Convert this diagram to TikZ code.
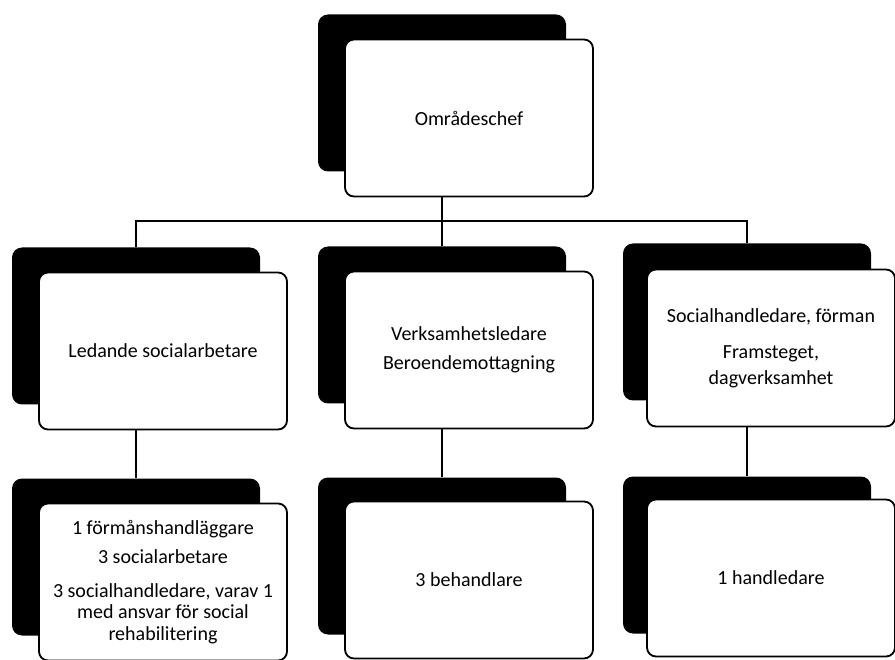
\documentclass[tikz,border=0pt]{standalone}
\usepackage{fontspec}
\setmainfont{Carlito}
\usetikzlibrary{backgrounds}
\begin{document}
\begin{tikzpicture}[x=1pt,y=-1pt,
  shadowbox/.style={fill=black, draw=none, rounded corners=10pt, minimum width=248pt, minimum height=157pt, inner sep=0pt},
  orgbox/.style={draw=black, line width=1.8pt, fill=white, rounded corners=9pt, minimum width=248pt, minimum height=157pt, inner sep=2pt, align=center, font=\fontsize{20}{21.5}\selectfont},
  link/.style={draw=black, line width=1.8pt}]
\useasboundingbox (0,0) rectangle (895,660);
% top
\node[shadowbox] (s0) at (442,93) {};
\node[orgbox] (b0) at (469,118) {Områdeschef};
% second row
\node[shadowbox] (s1) at (136,326) {};
\node[orgbox] (b1) at (163,351) {Ledande socialarbetare};
\node[shadowbox] (s2) at (442,325) {};
\node[orgbox] (b2) at (469,350) {Verksamhetsledare\\[8pt]Beroendemottagning};
\node[shadowbox] (s3) at (747,322) {};
\node[orgbox] (b3) at (771,348) {Socialhandledare, förman\\[15pt]Framsteget,\\[4pt]dagverksamhet};
% third row
\node[shadowbox] (s4) at (136,557) {};
\node[orgbox] (b4) at (163,582) {1 förmånshandläggare\\[8pt]3 socialarbetare\\[12pt]3 socialhandledare, varav 1\\med ansvar för social\\rehabilitering};
\node[shadowbox] (s5) at (442,556) {};
\node[orgbox] (b5) at (469,580) {3 behandlare};
\node[shadowbox] (s6) at (747,555) {};
\node[orgbox] (b6) at (771,578) {1 handledare};
% connectors behind the boxes
\begin{scope}[on background layer]
  \fill[white] (0,0) rectangle (895,660);
  \coordinate (j) at ([yshift=-49pt]s0.south);
  \draw[link] (s0.south) -- (j);
  \draw[link] (j) -| (s1.north);
  \draw[link] (j) -| (s2.north);
  \draw[link] (j) -| (s3.north);
  \draw[link] (s1.south) -- (s4.north);
  \draw[link] (s2.south) -- (s5.north);
  \draw[link] (s3.south) -- (s6.north);
\end{scope}
\end{tikzpicture}
\end{document}
